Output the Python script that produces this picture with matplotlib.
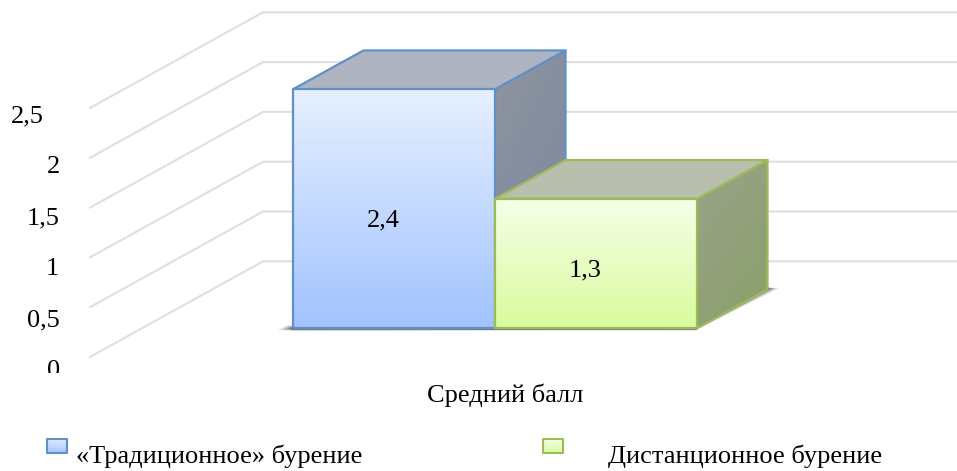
import numpy as np
import matplotlib
matplotlib.use("Agg")
import matplotlib.pyplot as plt
from matplotlib.colors import LinearSegmentedColormap
from matplotlib.patches import Polygon, Rectangle

# ---------- data ----------
category = "Средний балл"
series_names = ["«Традиционное» бурение", "Дистанционное бурение"]
series_values = [2.4, 1.3]
value_labels = ["2,4", "1,3"]
grid_values = [0, 0.5, 1, 1.5, 2, 2.5]
tick_labels = ["0", "0,5", "1", "1,5", "2", "2,5"]

# ---------- layout (pixels of the 957x471 canvas) ----------
W, H = 957, 471
BASE_PX, UNIT_PX = 328.3, 99.6     # y pixel of value 0 at the bar face, pixels per value unit
LEFT_PX, BAR_PX = 293.0, 202.0     # x pixel of first bar, bar width
DX, DY = 70.5 / BAR_PX, 38.8 / UNIT_PX            # bar depth
GX0, GX1, GX2 = (90 - LEFT_PX) / BAR_PX, (263 - LEFT_PX) / BAR_PX, (958 - LEFT_PX) / BAR_PX
G_FRONT, G_BACK = -28.7 / UNIT_PX, 67.0 / UNIT_PX

plt.rcParams["font.family"] = ["Liberation Serif", "DejaVu Serif"]
FS = 19
fig = plt.figure(figsize=(W / 100, H / 100), dpi=100, facecolor="white")
ax = fig.add_axes([0, 0, 1, 1])
ax.axis("off")


def px(x_px, y_px):
    return (x_px - LEFT_PX) / BAR_PX, (BASE_PX - y_px) / UNIT_PX


def gradient_poly(points, c_top, c_bottom, z, angle=0.0, edge=None, lw=1.6):
    pts = np.array(points)
    x0, x1, y0, y1 = pts[:, 0].min(), pts[:, 0].max(), pts[:, 1].min(), pts[:, 1].max()
    yy, xx = np.mgrid[0:1:64j, 0:1:64j]
    g = np.clip(yy * (1 - angle) + xx * angle, 0, 1)
    cmap = LinearSegmentedColormap.from_list("g", [c_top, c_bottom])
    im = ax.imshow(g, extent=(x0, x1, y0, y1), origin="upper", cmap=cmap, vmin=0, vmax=1,
                   aspect="auto", zorder=z, interpolation="bilinear")
    patch = Polygon(pts, closed=True, transform=ax.transData, fill=False, edgecolor="none")
    ax.add_patch(patch)
    im.set_clip_path(patch)
    if edge:
        ax.add_patch(Polygon(pts, closed=True, fill=False, edgecolor=edge, linewidth=lw,
                             joinstyle="round", zorder=z + 0.1))


# gridlines
for v in grid_values:
    ax.plot([GX0, GX1, GX2], [v + G_FRONT, v + G_BACK, v + G_BACK],
            color="#DEDEDE", lw=1.45, zorder=1, solid_joinstyle="miter")

# floor shadows
right_end = len(series_values)
for spread, alpha in zip([1.0, 0.75, 0.5, 0.25], [0.14, 0.2, 0.3, 0.45]):
    ax.add_patch(Polygon([(right_end, -0.012 * spread),
                          (right_end + DX * (1 + 0.16 * spread), DY + 0.012),
                          (right_end + DX, DY + 0.02), (right_end, 0)],
                         closed=True, facecolor="#303030", edgecolor="none",
                         alpha=alpha, zorder=1.5))
    ax.add_patch(Polygon([(-0.075 * spread, -0.018 * spread), (-0.075 * spread * 0.4, 0.03 * spread),
                          (0.1, 0.03), (right_end, 0.0), (right_end, -0.01 - 0.012 * spread),
                          (0, -0.012 - 0.012 * spread)],
                         closed=True, facecolor="#404040", edgecolor="none",
                         alpha=alpha, zorder=1.5))

# bars
face_colors = [("#E6F0FF", "#A2C3FF"), ("#F6FFE8", "#D9FB9E")]
top_colors = ["#ADB3C1", "#B9BFAC"]
side_colors = [("#90949F", "#76879F"), ("#9AA28B", "#8AA068")]
edge_colors = ["#6090C8", "#9BBB59"]

for i, v in enumerate(series_values):
    l, r = float(i), float(i + 1)
    side = [(r, 0), (r, v), (r + DX, v + DY), (r + DX, DY)]
    top = [(l, v), (r, v), (r + DX, v + DY), (l + DX, v + DY)]
    front = [(l, 0), (r, 0), (r, v), (l, v)]
    z = 3 + i * 2
    gradient_poly(side, side_colors[i][0], side_colors[i][1], z, angle=0.35, edge=edge_colors[i])
    ax.add_patch(Polygon(top, closed=True, facecolor=top_colors[i], edgecolor=edge_colors[i],
                         linewidth=1.6, joinstyle="round", zorder=z + 0.2))
    gradient_poly(front, face_colors[i][0], face_colors[i][1], z + 0.3, edge=edge_colors[i])
    ax.text(i + 0.5 - 11 / BAR_PX, v * 0.46 - 8 / UNIT_PX, value_labels[i], ha="center",
            va="baseline", fontsize=FS, color="black", zorder=10)

# value-axis labels; the lowest one is cut off in the reference
LABEL_X = [60, 60, 59, 60, 60, 44]
clip_rect = Rectangle((-2, (BASE_PX - 373) / UNIT_PX), 4, 4, transform=ax.transData)
for v, lab, lx in zip(grid_values, tick_labels, LABEL_X):
    x, _ = px(lx, 0)
    _, y = px(0, 377 - 102 * v)
    t = ax.text(x, y, lab, ha="right", va="baseline", fontsize=FS, color="black", clip_on=True)
    t.set_clip_path(clip_rect)

# category label
x, y = px(505, 402)
ax.text(x, y, category, ha="center", va="baseline", fontsize=FS, color="black")

# legend
swatches = [(47, 67), (543, 563)]
label_x = [76, 608]
for i, name in enumerate(series_names):
    a, b = swatches[i]
    p0, p1 = px(a, 453), px(b, 438.5)
    gradient_poly([p0, (p1[0], p0[1]), p1, (p0[0], p1[1])], face_colors[i][0],
                  face_colors[i][1], 6, edge=edge_colors[i], lw=1.5)
    x, y = px(label_x[i], 463)
    ax.text(x, y, name, ha="left", va="baseline", fontsize=FS, color="black")

ax.set_xlim(-LEFT_PX / BAR_PX, (W - LEFT_PX) / BAR_PX)
ax.set_ylim((BASE_PX - H) / UNIT_PX, BASE_PX / UNIT_PX)
fig.savefig("out.png", dpi=100, facecolor="white")
